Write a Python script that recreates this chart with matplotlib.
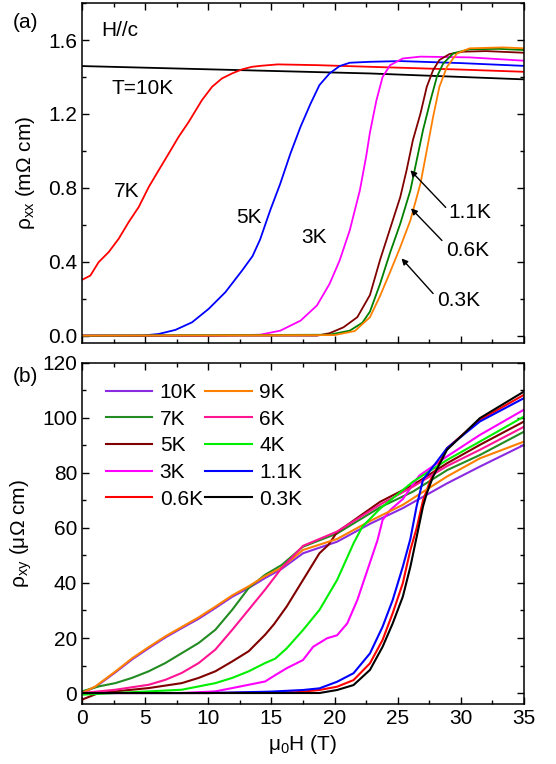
import numpy as np
import matplotlib
matplotlib.use("Agg")
import matplotlib.pyplot as plt
from matplotlib.ticker import MultipleLocator

plt.rcParams['font.family'] = ['Liberation Sans', 'DejaVu Sans']
plt.rcParams['mathtext.default'] = 'regular'

# ---- panel (a): rho_xx (mOhm cm) vs field (T) ----
xx_10K_h = [0, 14.25, 22.8, 35]
xx_10K_v = [1.459, 1.434, 1.419, 1.387]

xx_7K_h = [0, 0.66, 1.32, 2.11, 2.9, 3.7, 4.49, 5.28, 6.07, 6.86, 7.65, 8.45, 9.5, 10.3, 11.08,
           11.88, 12.67, 13.46, 14.25, 15.5, 18.6, 22.8, 30, 35]
xx_7K_v = [0.302, 0.325, 0.398, 0.452, 0.524, 0.615, 0.696, 0.804, 0.895, 0.985, 1.076, 1.157, 1.275,
           1.347, 1.392, 1.419, 1.441, 1.455, 1.461, 1.468, 1.464, 1.455, 1.44, 1.428]

xx_5K_h = [0, 4.75, 6.07, 7.39, 8.71, 10.03, 11.35, 12.67, 13.5, 14.1, 14.9, 15.7, 16.5, 17.3, 18.1,
           18.8, 19.6, 20.4, 21.2, 22.8, 25.2, 30, 35]
xx_5K_v = [0.0, 0.0, 0.009, 0.031, 0.072, 0.145, 0.235, 0.352, 0.43, 0.52, 0.678, 0.823, 0.985, 1.13,
           1.256, 1.356, 1.419, 1.459, 1.477, 1.482, 1.486, 1.475, 1.46]

xx_3K_h = [0, 10, 14.1, 15.7, 17.3, 18.6, 19.6, 20.4, 21.2, 22.0, 22.5, 22.8, 23.3, 23.8, 24.4, 25.4,
           26.8, 30.7, 35]
xx_3K_v = [0.0, 0.0, 0.005, 0.027, 0.081, 0.163, 0.28, 0.407, 0.57, 0.786, 0.97, 1.10, 1.27, 1.40,
           1.464, 1.50, 1.51, 1.506, 1.488]

xx_11K_h = [0, 18.6, 19.6, 20.7, 21.8, 22.8, 23.6, 24.4, 25.2, 25.7, 26.2, 26.8, 27.3, 27.8, 28.3,
            29.1, 30.2, 32, 35]
xx_11K_v = [0.0, 0.0, 0.013, 0.045, 0.10, 0.22, 0.41, 0.58, 0.75, 0.895, 1.058, 1.202, 1.347, 1.437,
            1.492, 1.524, 1.537, 1.54, 1.531]

xx_06K_h = [0, 19.6, 21.2, 22.2, 22.8, 23.6, 24.4, 25.2, 26.0, 26.5, 27.0, 27.6, 28.1, 28.6, 29.4,
            30.7, 33, 35]
xx_06K_v = [0.0, 0.005, 0.027, 0.07, 0.13, 0.28, 0.45, 0.606, 0.786, 0.949, 1.112, 1.275, 1.401,
            1.473, 1.528, 1.55, 1.552, 1.546]

xx_03K_h = [0, 20.0, 21.6, 22.8, 23.6, 24.4, 25.2, 26.0, 26.8, 27.3, 27.8, 28.3, 28.9, 29.7, 30.7,
            33.3, 35]
xx_03K_v = [0.0, 0.003, 0.025, 0.10, 0.215, 0.345, 0.479, 0.624, 0.823, 1.003, 1.184, 1.347, 1.455,
            1.528, 1.555, 1.56, 1.555]

# ---- panel (b): rho_xy (uOhm cm) vs field (T) ----
xy_10K_h = [0, 1.06, 2.64, 3.96, 5.28, 6.6, 7.9, 9.24, 10.56, 11.9, 13.2, 14.5, 15.8, 17.5, 20.2,
            22.8, 25.4, 28.9, 31.5, 35]
xy_10K_v = [0, 2.2, 7.5, 12.2, 16.3, 20.2, 23.6, 27.0, 30.9, 35.0, 38.2, 41.8, 45.1, 50.8, 55,
            61.5, 67.2, 76.2, 82.3, 90.2]
xy_9K_h = [0, 1.06, 2.64, 3.96, 5.28, 6.6, 7.9, 9.24, 10.56, 11.9, 13.2, 14.5, 15.8, 17.5, 20.2,
           22.8, 25.4, 28.9, 31.5, 35]
xy_9K_v = [0, 2.4, 7.8, 12.6, 16.7, 20.6, 24.0, 27.5, 31.4, 35.5, 38.8, 42.5, 45.6, 52, 56,
           62.5, 68.4, 78.7, 85.3, 91.4]
xy_7K_h = [0, 1.32, 2.64, 3.96, 5.28, 6.6, 7.9, 9.24, 10.56, 11.9, 13.2, 14.5, 15.8, 17.5, 20.2,
           23.6, 26.2, 28.9, 31.5, 35]
xy_7K_v = [0.6, 2.4, 3.6, 5.5, 7.9, 10.9, 14.5, 18.2, 23, 30.3, 38.2, 43, 46.5, 53.2, 58,
           67.5, 73.2, 81, 86.5, 95]
xy_6K_h = [0, 2.64, 5.28, 6.6, 7.9, 9.24, 10.56, 11.9, 13.2, 14.5, 15.3, 15.8, 17.5, 20.2, 23.6,
           26.2, 28.9, 31.5, 35]
xy_6K_v = [0, 1.2, 3, 4.8, 7.3, 10.9, 15.8, 23, 30.3, 37.6, 42.4, 45.4, 53.5, 58.7, 68.5,
           75, 82.5, 88.4, 96.8]
xy_5K_h = [0, 1.32, 2.64, 5.28, 7.9, 9.24, 10.56, 11.9, 13.2, 14.5, 15.2, 16.2, 17.5, 18.8, 19.5,
           20.2, 23.6, 26.2, 28.9, 31.5, 35]
xy_5K_v = [-2.4, 0, 0.6, 1.8, 3.6, 5.5, 7.9, 11.5, 15.2, 21.2, 25, 31.4, 41.1, 50.8, 53.8,
           58.5, 69.5, 75.6, 83.5, 90.2, 98.7]
xy_4K_h = [0, 2.64, 5.28, 7.9, 9.24, 10.56, 11.9, 13.2, 14.5, 15.3, 16.2, 17.5, 18.8, 20.2, 21.5,
           22.2, 23.6, 26.2, 28.9, 31.5, 35]
xy_4K_v = [-0.6, 0, 0.6, 1.2, 2.4, 3.6, 5.5, 7.9, 10.9, 12.5, 16.2, 22.9, 30.2, 41.1, 54.4,
           60.5, 67, 76.8, 84.7, 91.4, 100.5]
xy_3K_h = [0, 7.9, 10.56, 11.9, 13.2, 14.5, 15.3, 16.2, 17.5, 18.3, 19.4, 20.2, 21.0, 21.8, 22.6,
           23.4, 23.8, 24.4, 25.4, 26.7, 28.9, 31.5, 35]
xy_3K_v = [0, 0, 0.6, 1.8, 3, 4.2, 6.5, 9, 12, 16.8, 19.9, 21, 25.3, 33.8, 44.7,
           55.6, 62.9, 66.5, 70.5, 79, 86, 93.8, 103]
xy_11K_h = [0, 10, 14.9, 17.5, 18.8, 20.2, 21.5, 22.8, 23.8, 24.6, 25.4, 26.0, 26.5, 27.0, 27.8,
            28.9, 31.5, 35]
xy_11K_v = [0, 0, 0.5, 1.1, 1.7, 4.1, 7.2, 14.4, 24.1, 33.8, 45.9, 56, 68, 77.5, 82.3,
            89, 98.7, 107.2]
xy_06K_h = [0, 10, 17, 18.8, 20.2, 21.5, 22.8, 23.8, 24.6, 25.4, 26.0, 26.5, 27.0, 27.6, 28.9,
            31.5, 35]
xy_06K_v = [0, 0, 0.3, 1.1, 2.3, 4.7, 10.8, 19.3, 29, 39.9, 52, 60, 70, 77.5, 89,
            99.3, 108.4]
xy_03K_h = [0, 10, 18.8, 20.2, 21.5, 22.8, 23.8, 24.6, 25.4, 26.0, 26.5, 27.0, 27.3, 27.8, 28.9,
            31.5, 35]
xy_03K_v = [0, 0, 0, 1.1, 2.9, 8.4, 16.8, 25.3, 35, 45.9, 56.8, 67.8, 72.6, 78.7, 88.4,
            99.9, 109.6]

fig = plt.figure(figsize=(5.56, 7.64), dpi=100)
ax1 = fig.add_axes([0.1475, 0.551, 0.795, 0.445])
ax2 = fig.add_axes([0.1475, 0.0785, 0.795, 0.4465])

lw = 1.3
ax1.plot(xx_10K_h, xx_10K_v, color='black', lw=lw)
ax1.plot(xx_7K_h, xx_7K_v, color='#ff0000', lw=lw)
ax1.plot(xx_5K_h, xx_5K_v, color='#0000ff', lw=lw)
ax1.plot(xx_3K_h, xx_3K_v, color='#ff00ff', lw=lw)
ax1.plot(xx_11K_h, xx_11K_v, color='#800000', lw=lw)
ax1.plot(xx_06K_h, xx_06K_v, color='#008000', lw=lw)
ax1.plot(xx_03K_h, xx_03K_v, color='#ff8000', lw=lw)

fs = 15
ax1.text(3.0, 1.654, 'H//c', fontsize=fs, ha='center', va='center')
ax1.text(4.8, 1.34, 'T=10K', fontsize=fs, ha='center', va='center')
ax1.text(3.5, 0.78, '7K', fontsize=fs, ha='center', va='center')
ax1.text(13.2, 0.64, '5K', fontsize=fs, ha='center', va='center')
ax1.text(18.4, 0.53, '3K', fontsize=fs, ha='center', va='center')
arr = dict(arrowstyle='-|>', color='black', lw=1.0, mutation_scale=9, shrinkA=0, shrinkB=0)
ax1.annotate('', xy=(26.0, 0.895), xytext=(28.8, 0.694), arrowprops=arr)
ax1.annotate('', xy=(26.05, 0.689), xytext=(28.5, 0.515), arrowprops=arr)
ax1.annotate('', xy=(25.3, 0.418), xytext=(27.8, 0.228), arrowprops=arr)
ax1.text(30.7, 0.667, '1.1K', fontsize=fs, ha='center', va='center')
ax1.text(30.5, 0.461, '0.6K', fontsize=fs, ha='center', va='center')
ax1.text(29.8, 0.19, '0.3K', fontsize=fs, ha='center', va='center')

ax1.set_xlim(0, 35)
ax1.set_ylim(-0.04, 1.8)
ax1.xaxis.set_major_locator(MultipleLocator(5))
ax1.xaxis.set_minor_locator(MultipleLocator(2.5))
ax1.yaxis.set_major_locator(MultipleLocator(0.4))
ax1.yaxis.set_minor_locator(MultipleLocator(0.2))
ax1.set_xticklabels([])
ax1.set_ylabel(r'$\rho_{xx}$ (m$\Omega$ cm)', fontsize=fs, labelpad=8)

legend_items = [
    ('10K', '#8a2be2', xy_10K_h, xy_10K_v),
    ('7K', '#228b22', xy_7K_h, xy_7K_v),
    ('5K', '#800000', xy_5K_h, xy_5K_v),
    ('3K', '#ff00ff', xy_3K_h, xy_3K_v),
    ('0.6K', '#ff0000', xy_06K_h, xy_06K_v),
    ('9K', '#ff8000', xy_9K_h, xy_9K_v),
    ('6K', '#ff1493', xy_6K_h, xy_6K_v),
    ('4K', '#00ee00', xy_4K_h, xy_4K_v),
    ('1.1K', '#0000ff', xy_11K_h, xy_11K_v),
    ('0.3K', 'black', xy_03K_h, xy_03K_v),
]
for name, c, h, v in legend_items:
    ax2.plot(h, v, color=c, lw=1.5, label=name)

ax2.legend(loc='upper left', ncol=2, frameon=False, fontsize=fs, handlelength=2.25,
           handletextpad=0.35, columnspacing=0.1, labelspacing=0.37,
           bbox_to_anchor=(0.025, 0.978), borderaxespad=0.2)

ax2.set_xlim(0, 35)
ax2.set_ylim(-4, 120)
ax2.xaxis.set_major_locator(MultipleLocator(5))
ax2.xaxis.set_minor_locator(MultipleLocator(2.5))
ax2.yaxis.set_major_locator(MultipleLocator(20))
ax2.yaxis.set_minor_locator(MultipleLocator(10))
ax2.set_ylabel(r'$\rho_{xy}$ ($\mu\Omega$ cm)', fontsize=fs, labelpad=6)
ax2.set_xlabel(r'$\mu_0$H (T)', fontsize=fs)

for ax in (ax1, ax2):
    ax.tick_params(which='both', direction='in', top=True, right=True, labelsize=fs)
    ax.tick_params(which='major', length=5, width=1)
    ax.tick_params(which='minor', length=3, width=1)
    for s in ax.spines.values():
        s.set_linewidth(1.1)

fig.text(25 / 556, 1 - 22 / 764, '(a)', fontsize=fs, ha='center', va='center')
fig.text(25 / 556, 1 - 377 / 764, '(b)', fontsize=fs, ha='center', va='center')

fig.savefig('out.png', dpi=100)
